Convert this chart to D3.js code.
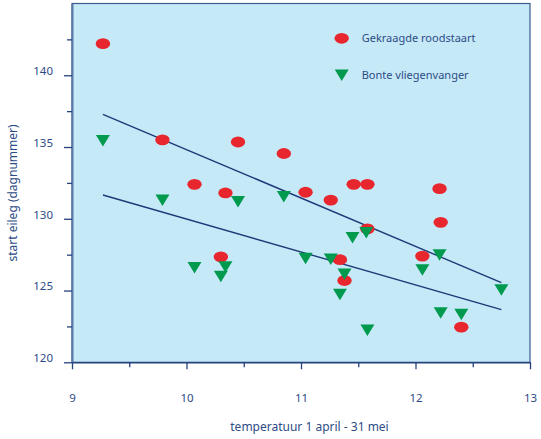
<!DOCTYPE html>
<html>
<head>
<meta charset="utf-8">
<script src="https://cdn.jsdelivr.net/npm/d3@7"></script>
<style>
  html, body { margin: 0; padding: 0; background: #fff; }
  svg text { font-family: 'Noto Sans', 'Open Sans', sans-serif; fill: #2d4c86; }
</style>
</head>
<body>
<div id="chart"></div>
<script>
// temperature (x) and start of egg laying (day number, y)
const roodstaartX = [9.27, 9.79, 10.07, 10.34, 10.45, 10.85, 11.04, 11.26, 11.46, 11.58,
    12.21, 12.22, 11.58, 11.34, 11.38, 12.06, 12.40, 10.30];
const roodstaartY = [142.2, 135.5, 132.4, 131.8, 135.35, 134.55, 131.85, 131.3, 132.4, 132.4,
    132.1, 129.75, 129.3, 127.15, 125.7, 127.4, 122.45, 127.35];

const vliegenvangerX = [9.27, 9.79, 10.45, 10.85, 10.07, 10.34, 10.30, 11.04, 11.26, 11.38,
    11.34, 11.45, 11.57, 11.58, 12.06, 12.21, 12.22, 12.40, 12.75];
const vliegenvangerY = [135.45, 131.3, 131.2, 131.55, 126.6, 126.65, 126.0, 127.25, 127.2, 126.15,
    124.75, 128.7, 129.05, 122.25, 126.45, 127.5, 123.45, 123.35, 125.05];

// regression lines: [x, y] end points
const roodstaartTrend = [[9.27, 137.28], [12.75, 125.55]];
const vliegenvangerTrend = [[9.27, 131.66], [12.75, 123.67]];

const xTicks = [9, 10, 11, 12, 13];
const xMinorTicks = [9.5, 10.5, 11.5, 12.5];
const yTicks = [120, 125, 130, 135, 140];
const yMinorTicks = [122.5, 127.5, 132.5, 137.5, 142.5];

const seriesNames = ['Gekraagde roodstaart', 'Bonte vliegenvanger'];

const width = 541,
    height = 439,
    plot = { left: 72, right: 530, top: 3.5, bottom: 362.3 },
    axisColor = '#24427c',
    red = '#e8262e',
    green = '#009a4e',
    trianglePath = 'M-7,-5.5L7,-5.5L0,6Z';

const svg = d3.select('#chart')
    .append('svg')
    .attr('width', width)
    .attr('height', height);

const x = d3.scaleLinear().domain([9, 13]).range([plot.left, plot.right]);
const y = d3.scaleLinear().domain([120, 145]).range([plot.bottom, plot.top]);

// plot background
svg.append('rect')
    .attr('x', plot.left)
    .attr('y', plot.top)
    .attr('width', plot.right - plot.left)
    .attr('height', plot.bottom - plot.top)
    .attr('fill', '#c6e9f8')
    .attr('stroke', '#3b5a8e')
    .attr('stroke-width', 1.2);

// y axis
const yAxis = svg.append('g')
    .attr('transform', `translate(${plot.left},0)`)
    .call(d3.axisLeft(y).tickValues(yTicks).tickSize(8).tickPadding(11).tickSizeOuter(0));
svg.append('g')
    .attr('transform', `translate(${plot.left},0)`)
    .call(d3.axisLeft(y).tickValues(yMinorTicks).tickSize(5).tickFormat('').tickSizeOuter(0))
    .call((g) => g.select('.domain').remove());
yAxis.selectAll('text').attr('dy', '-0.05em');
yAxis.select('.domain').attr('stroke', '#5a78a8').attr('stroke-width', 2);

// x axis
const xAxis = svg.append('g')
    .attr('transform', `translate(0,${plot.bottom})`)
    .call(d3.axisBottom(x).tickValues(xTicks).tickFormat(d3.format('d'))
        .tickSize(7).tickPadding(25).tickSizeOuter(0));
svg.append('g')
    .attr('transform', `translate(0,${plot.bottom})`)
    .call(d3.axisBottom(x).tickValues(xMinorTicks).tickSize(5).tickFormat('').tickSizeOuter(0))
    .call((g) => g.select('.domain').remove());
xAxis.select('.domain').attr('stroke-width', 1.6);

svg.selectAll('.tick line').attr('stroke', axisColor).attr('stroke-width', 1.3);
svg.selectAll('.domain').attr('stroke', axisColor);
yAxis.select('.domain').attr('stroke', '#5a78a8');
svg.selectAll('.tick text')
    .style('font-size', '11.5px')
    .attr('fill', '#2d4c86');

// axis titles
svg.append('text')
    .attr('x', 309.5)
    .attr('y', 431)
    .attr('text-anchor', 'middle')
    .style('font-size', '12px')
    .text('temperatuur 1 april - 31 mei');

svg.append('text')
    .attr('transform', `translate(17,${193}) rotate(-90)`)
    .attr('text-anchor', 'middle')
    .style('font-size', '12px')
    .text('start eileg (dagnummer)');

// trend lines
const line = d3.line().x((d) => x(d[0])).y((d) => y(d[1]));
[roodstaartTrend, vliegenvangerTrend].forEach((t) => {
    svg.append('path')
        .datum(t)
        .attr('d', line)
        .attr('fill', 'none')
        .attr('stroke', '#1d3a78')
        .attr('stroke-width', 1.4);
});

// points
svg.append('g')
    .selectAll('ellipse')
    .data(roodstaartX.map((d, i) => [d, roodstaartY[i]]))
    .join('ellipse')
    .attr('cx', (d) => x(d[0]))
    .attr('cy', (d) => y(d[1]))
    .attr('rx', 7.2)
    .attr('ry', 5.4)
    .attr('fill', red);

svg.append('g')
    .selectAll('path')
    .data(vliegenvangerX.map((d, i) => [d, vliegenvangerY[i]]))
    .join('path')
    .attr('transform', (d) => `translate(${x(d[0])},${y(d[1])})`)
    .attr('d', trianglePath)
    .attr('fill', green);

// legend
const legend = svg.append('g').attr('transform', 'translate(341.7,38.3)');
legend.append('ellipse').attr('rx', 7.2).attr('ry', 5.4).attr('fill', red);
legend.append('path')
    .attr('transform', 'translate(0,36.7)')
    .attr('d', trianglePath)
    .attr('fill', green);
legend.selectAll('text.item')
    .data(seriesNames)
    .join('text')
    .attr('class', 'item')
    .attr('x', 20)
    .attr('y', (d, i) => i * 36.7)
    .attr('dy', '0.35em')
    .style('font-size', '11px')
    .text((d) => d);
</script>
</body>
</html>
